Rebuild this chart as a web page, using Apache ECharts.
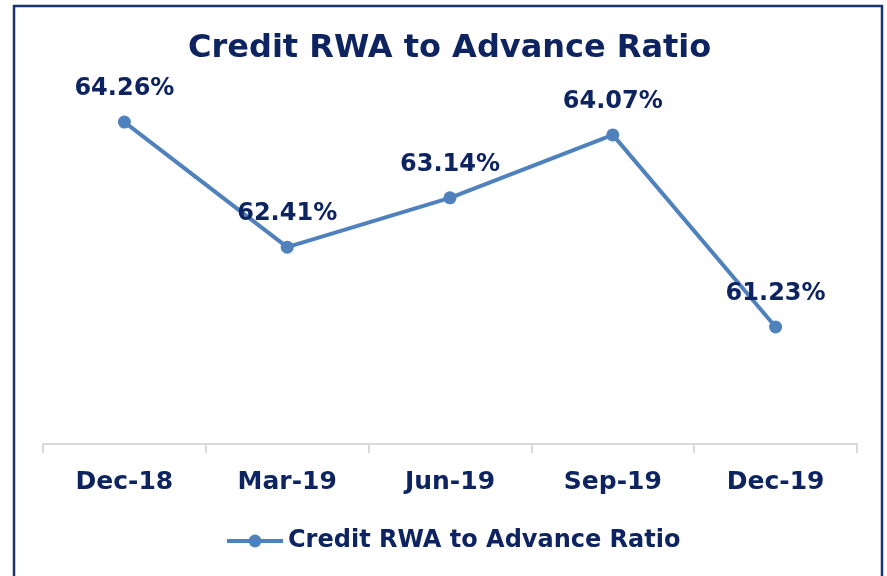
<!DOCTYPE html>
<html>
<head>
<meta charset="utf-8">
<script src="https://cdn.jsdelivr.net/npm/echarts@6/dist/echarts.min.js"></script>
<style>
  html, body { margin: 0; padding: 0; background: #fff; }
  #chart { width: 887px; height: 576px; }
</style>
</head>
<body>
<div id="chart"></div>
<script>
// quarters and ratio values (%)
var categories = ['Dec-18', 'Mar-19', 'Jun-19', 'Sep-19', 'Dec-19'];
var ratioValues = [64.26, 62.41, 63.14, 64.07, 61.23];
var seriesName = 'Credit RWA to Advance Ratio';

var navy = '#0d2461';
var lineBlue = '#4f81bd';
var fontFam = 'DejaVu Sans';

var myChart = echarts.init(document.getElementById('chart'));
myChart.setOption({
    animation: false,
    backgroundColor: '#fff',
    graphic: [{
        type: 'rect',
        shape: {x: 14, y: 6, width: 868, height: 620},
        style: {fill: 'none', stroke: '#1a3270', lineWidth: 2.5}
    }],
    title: {
        text: 'Credit RWA to Advance Ratio',
        left: 188,
        top: 33,
        padding: 0,
        textStyle: {color: navy, fontSize: 32, fontWeight: 'bold', fontFamily: fontFam}
    },
    legend: {
        bottom: 23,
        left: 225,
        padding: 0,
        itemWidth: 56,
        itemHeight: 16,
        lineStyle: {width: 4},
        textStyle: {color: navy, fontSize: 24, fontWeight: 'bold', fontFamily: fontFam},
        data: [seriesName]
    },
    grid: {left: 43, right: 30, top: 72, bottom: 132},
    xAxis: {
        type: 'category',
        data: categories,
        boundaryGap: true,
        axisLine: {lineStyle: {color: '#d9d9d9', width: 2}},
        axisTick: {show: true, length: 9, lineStyle: {color: '#d9d9d9', width: 2}},
        axisLabel: {color: navy, fontSize: 25, fontWeight: 'bold', fontFamily: fontFam, margin: 26}
    },
    yAxis: {
        type: 'value',
        min: 59.5,
        max: 65,
        show: false,
        splitLine: {show: false}
    },
    series: [{
        name: seriesName,
        type: 'line',
        data: ratioValues,
        symbol: 'circle',
        symbolSize: 13,
        itemStyle: {color: lineBlue},
        lineStyle: {color: lineBlue, width: 4},
        label: {
            show: true,
            position: 'top',
            distance: 15,
            color: navy,
            fontSize: 24,
            fontWeight: 'bold',
            fontFamily: fontFam,
            formatter: function (p) { return p.value.toFixed(2) + '%'; }
        }
    }]
});
</script>
</body>
</html>
